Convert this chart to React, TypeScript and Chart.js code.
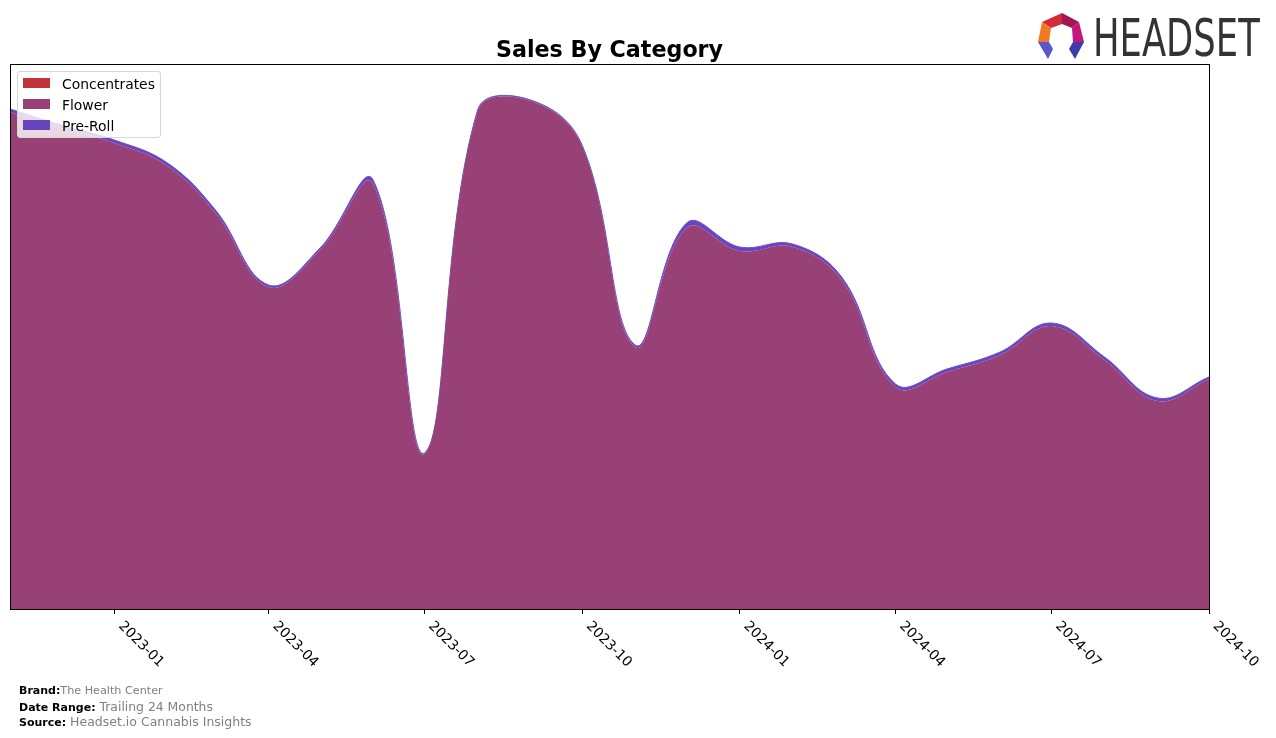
import React, { useEffect, useRef } from "react";
import { Chart, registerables } from "chart.js";

Chart.register(...registerables);

// ---- data ----
const months = [
  "2022-11", "2022-12", "2023-01", "2023-02", "2023-03", "2023-04",
  "2023-05", "2023-06", "2023-07", "2023-08", "2023-09", "2023-10",
  "2023-11", "2023-12", "2024-01", "2024-02", "2024-03", "2024-04",
  "2024-05", "2024-06", "2024-07", "2024-08", "2024-09", "2024-10",
];
const concentrates = [
  0, 0, 0, 0, 0, 0, 0, 0, 0, 0, 0, 0,
  0, 0, 0, 0, 0, 0, 0, 0, 0, 0, 0, 0,
];
const flower = [
  49700, 48100, 46600, 44300, 39600, 32200, 35900, 42500, 15500, 49800, 50800, 46300,
  26200, 38100, 35800, 36200, 32800, 22200, 23700, 25400, 28300, 24900, 20800, 23000,
];
const preRoll = [
  300, 300, 300, 300, 300, 200, 200, 400, 100, 100, 100, 100,
  200, 500, 400, 300, 300, 300, 300, 300, 300, 300, 300, 200,
];
const tickMonths = [
  "2023-01", "2023-04", "2023-07", "2023-10", "2024-01", "2024-04", "2024-07", "2024-10",
];
const seriesNames = ["Concentrates", "Flower", "Pre-Roll"];
const seriesColors = ["#c0343a", "#974176", "#6745be"];
const yMax = 54500;

const dayOf = (m: string) => {
  const [y, mo] = m.split("-").map(Number);
  return Date.UTC(y, mo - 1, 1) / 86400000;
};

const framePlugin = {
  id: "frame",
  afterDatasetsDraw(chart: any) {
    const { ctx, chartArea } = chart;
    ctx.save();
    ctx.strokeStyle = "#000";
    ctx.lineWidth = 1;
    const l = Math.round(chartArea.left) + 0.5;
    const t = Math.round(chartArea.top) + 0.5;
    const r = Math.round(chartArea.right) + 0.5;
    const b = Math.round(chartArea.bottom) + 0.5;
    ctx.strokeRect(l, t, r - l, b - t);
    ctx.restore();
  },
};

const tickLabelPlugin = {
  id: "rotTicks",
  afterDraw(chart: any) {
    const { ctx, chartArea } = chart;
    const xs = chart.scales.x;
    ctx.save();
    ctx.font = '13.9px "DejaVu Sans"';
    ctx.fillStyle = "#000";
    ctx.textAlign = "left";
    ctx.textBaseline = "top";
    tickMonths.forEach((m) => {
      const px = xs.getPixelForValue(dayOf(m));
      ctx.save();
      ctx.translate(px + 11, chartArea.bottom + 10);
      ctx.rotate(Math.PI / 4);
      ctx.fillText(m, 0, 0);
      ctx.restore();
    });
    ctx.restore();
  },
};

function Logo() {
  return (
    <div style={{ position: "absolute", left: 1036, top: 12, width: 240, height: 50 }}>
      <svg width="48" height="48" viewBox="0 0 48 48" style={{ position: "absolute", left: 0, top: 0 }}>
        <polygon points="6,10 26,1 26,12 15,16" fill="#d42a3c" />
        <polygon points="26,1 43,10 36,16 26,12" fill="#a3184a" />
        <polygon points="6,10 15,16 13,30 2,30" fill="#f07a24" />
        <polygon points="43,10 48,30 37,30 36,16" fill="#c0187e" />
        <polygon points="2,30 13,30 17,37 12,47" fill="#5b55cc" />
        <polygon points="37,30 48,30 39,47 33,37" fill="#3e3aa8" />
      </svg>
      <span
        style={{
          position: "absolute",
          left: 57,
          top: 0,
          fontFamily: '"DejaVu Sans"',
          fontSize: 52,
          lineHeight: "52px",
          color: "#333",
          transform: "scaleX(0.68)",
          transformOrigin: "left top",
          whiteSpace: "nowrap",
        }}
      >
        HEADSET
      </span>
    </div>
  );
}

export default function App() {
  const canvasRef = useRef<HTMLCanvasElement | null>(null);

  useEffect(() => {
    const canvas = canvasRef.current;
    if (!canvas) return;
    const seriesData = [concentrates, flower, preRoll];
    const chart = new Chart(canvas, {
      type: "line",
      data: {
        datasets: seriesNames.map((name, k) => ({
          label: name,
          data: months.map((m, i) => ({ x: dayOf(m), y: seriesData[k][i] })),
          backgroundColor: seriesColors[k],
          borderColor: k === 2 ? "#6a52d2" : seriesColors[k],
          borderWidth: k === 2 ? 1 : 0,
          fill: k === 0 ? "origin" : "-1",
          pointRadius: 0,
          tension: 0.4,
        })),
      },
      options: {
        animation: false,
        responsive: false,
        devicePixelRatio: 1,
        layout: { padding: { left: 10, top: 64, right: 67, bottom: 0 } },
        plugins: {
          legend: { display: false },
          title: { display: false },
          tooltip: { enabled: false },
        },
        scales: {
          x: {
            type: "linear",
            min: dayOf(months[0]),
            max: dayOf(months[months.length - 1]),
            afterBuildTicks: (s: any) => {
              s.ticks = tickMonths.map((m) => ({ value: dayOf(m) }));
            },
            afterFit: (s: any) => {
              s.height = 129;
            },
            ticks: { display: false },
            grid: {
              display: true,
              drawOnChartArea: false,
              drawTicks: true,
              tickLength: 5,
              color: "#000",
              lineWidth: 1,
            },
            border: { display: false },
          },
          y: { display: false, stacked: true, min: 0, max: yMax },
        },
      } as any,
      plugins: [framePlugin, tickLabelPlugin],
    });
    return () => chart.destroy();
  }, []);

  const legendRowTop = [76, 97, 118];
  const patchTop = [78, 99, 120];

  return (
    <div style={{ position: "absolute", left: 0, top: 0, width: 1276, height: 738, background: "#fff", fontFamily: '"DejaVu Sans"' }}>
      <canvas ref={canvasRef} width={1276} height={738} style={{ position: "absolute", left: 0, top: 0 }} />
      <div
        style={{
          position: "absolute",
          left: 0,
          top: 36,
          width: 1219,
          textAlign: "center",
          fontSize: 22.2,
          lineHeight: "26px",
          fontWeight: "bold",
          color: "#000",
        }}
      >
        Sales By Category
      </div>
      <div
        style={{
          position: "absolute",
          left: 17,
          top: 71,
          width: 144,
          height: 67,
          border: "1px solid #d6d6d6",
          borderRadius: 3,
          background: "rgba(255,255,255,0.8)",
          boxSizing: "border-box",
        }}
      />
      {seriesNames.map((name, k) => (
        <React.Fragment key={name}>
          <div
            style={{
              position: "absolute",
              left: 23,
              top: patchTop[k],
              width: 27,
              height: 10,
              background: seriesColors[k],
            }}
          />
          <div
            style={{
              position: "absolute",
              left: 62,
              top: legendRowTop[k],
              fontSize: 13.9,
              lineHeight: "16px",
              color: "#000",
              whiteSpace: "nowrap",
            }}
          >
            {name}
          </div>
        </React.Fragment>
      ))}
      <Logo />
      <div style={{ position: "absolute", left: 19, top: 682, lineHeight: "13px", whiteSpace: "nowrap" }}>
        <span style={{ fontWeight: "bold", fontSize: 11, color: "#000" }}>Brand:</span>
        <span style={{ fontSize: 11.2, color: "#808080" }}>The Health Center</span>
      </div>
      <div style={{ position: "absolute", left: 19, top: 699, lineHeight: "14px", whiteSpace: "nowrap" }}>
        <span style={{ fontWeight: "bold", fontSize: 11, color: "#000" }}>Date Range:</span>
        <span style={{ fontSize: 12.4, color: "#808080" }}> Trailing 24 Months</span>
      </div>
      <div style={{ position: "absolute", left: 19, top: 714, lineHeight: "14px", whiteSpace: "nowrap" }}>
        <span style={{ fontWeight: "bold", fontSize: 11, color: "#000" }}>Source:</span>
        <span style={{ fontSize: 12.5, color: "#808080" }}> Headset.io Cannabis Insights</span>
      </div>
    </div>
  );
}
